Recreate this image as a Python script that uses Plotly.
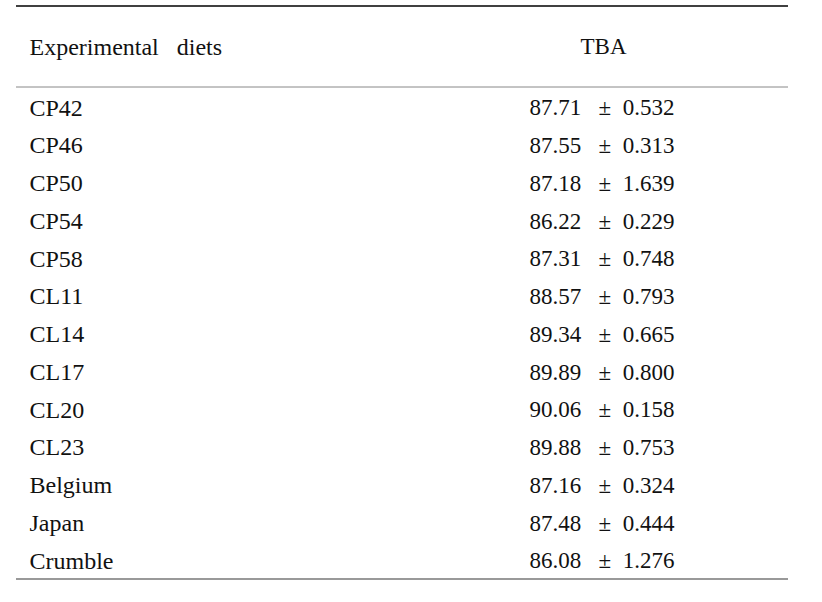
import plotly.graph_objects as go

diets = ["CP42", "CP46", "CP50", "CP54", "CP58", "CL11", "CL14", "CL17",
         "CL20", "CL23", "Belgium", "Japan", "Crumble"]
tba_mean = ["87.71", "87.55", "87.18", "86.22", "87.31", "88.57", "89.34",
            "89.89", "90.06", "89.88", "87.16", "87.48", "86.08"]
tba_sd = ["0.532", "0.313", "1.639", "0.229", "0.748", "0.793", "0.665",
          "0.800", "0.158", "0.753", "0.324", "0.444", "1.276"]
headers = ["Experimental\u00a0\u00a0\u00a0diets", "TBA"]

rows = list(range(1, len(diets) + 1))
font = dict(family="Liberation Serif, Times New Roman, serif", size=23, color="#111111")
font_l = dict(family="Liberation Serif, Times New Roman, serif", size=24, color="#111111")

fig = go.Figure()
fig.add_trace(go.Scatter(
    x=[29.5] * len(diets), y=rows, text=diets, mode="text",
    textposition="middle right", textfont=font_l, hoverinfo="skip", showlegend=False))
fig.add_trace(go.Scatter(
    x=[602] * len(diets), y=rows,
    text=[f"{m}\u00a0\u00a0\u00a0\u00b1\u00a0\u00a0{s}" for m, s in zip(tba_mean, tba_sd)],
    mode="text", textposition="middle center", textfont=font,
    hoverinfo="skip", showlegend=False))
fig.add_trace(go.Scatter(
    x=[29.5], y=[-0.616], text=[headers[0]], mode="text",
    textposition="middle right", textfont=font_l, hoverinfo="skip", showlegend=False))
fig.add_trace(go.Scatter(
    x=[603.5], y=[-0.616], text=[headers[1]], mode="text",
    textposition="middle center", textfont=font, hoverinfo="skip", showlegend=False))

fig.add_shape(type="line", x0=16, x1=788, y0=-1.742, y1=-1.742,
              line=dict(color="#000000", width=1.3))
fig.add_shape(type="line", x0=16, x1=788, y0=0.404, y1=0.404,
              line=dict(color="#888888", width=1))
fig.add_shape(type="line", x0=16, x1=788, y0=13.437, y1=13.437,
              line=dict(color="#999999", width=2))

fig.update_layout(
    width=822, height=602, margin=dict(l=0, r=0, t=0, b=0),
    paper_bgcolor="white", plot_bgcolor="white",
    xaxis=dict(range=[0, 822], visible=False, fixedrange=True),
    yaxis=dict(range=[14.046, -1.901], visible=False, fixedrange=True),
)
fig.write_html("out.html", config={"displayModeBar": False},
               post_script="document.body.style.margin='0';document.body.style.padding='0';")
